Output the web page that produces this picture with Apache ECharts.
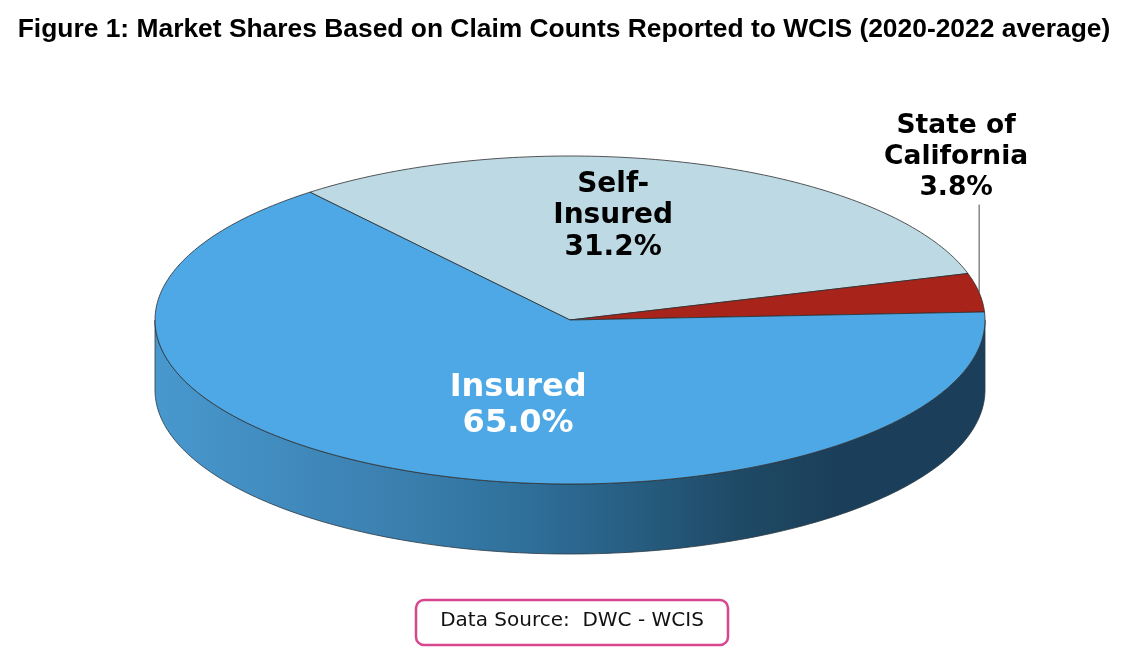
<!DOCTYPE html>
<html>
<head>
<meta charset="utf-8">
<script src="https://cdn.jsdelivr.net/npm/echarts@6/dist/echarts.min.js"></script>
<style>
  html, body { margin: 0; padding: 0; background: #ffffff; }
  #chart { width: 1128px; height: 656px; }
</style>
</head>
<body>
<div id="chart"></div>
<script>
// ---- data ----
const categories = ['Self-Insured', 'State of California', 'Insured'];
const shares = [31.2, 3.8, 65.0];
const labelNames = ['Self-\nInsured', 'State of\nCalifornia', 'Insured'];
const titleText = 'Figure 1: Market Shares Based on Claim Counts Reported to WCIS (2020-2022 average)';
const sourceText = 'Data Source:  DWC - WCIS';

// ---- layout / style ----
const geo = { cx: 570, cy: 320, rx: 415, ry: 164, depth: 70, startAngle: 128.8 };
const topColors = ['#bdd9e4', '#a8231a', '#4da8e5'];
const labelColors = ['#000000', '#000000', '#ffffff'];
const labelFonts = [28, 26.5, 32];
const labelLineH = [31.5, 31, 36];
// label anchor offsets in radius units (null = leader line label)
const labelOffsets = [[0.104, -0.634], null, [-0.125, 0.52]];
const leader = { length: 88, labelGap: 47, dx: -23 };

const total = shares.reduce((a, b) => a + b, 0);
const DEG = Math.PI / 180;
function pt(t, dy) {
  return [geo.cx + geo.rx * Math.cos(t * DEG), geo.cy - geo.ry * Math.sin(t * DEG) + (dy || 0)];
}
function arc(a0, a1, dy) {
  const n = Math.max(2, Math.ceil(Math.abs(a1 - a0)));
  const pts = [];
  for (let i = 0; i <= n; i++) pts.push(pt(a0 + (a1 - a0) * i / n, dy));
  return pts;
}

function renderItem(params, api) {
  const idx = params.dataIndex;
  let before = 0;
  for (let i = 0; i < idx; i++) before += shares[i];
  const v = api.value(0);
  const hi = geo.startAngle - before / total * 360;
  const lo = hi - v / total * 360;
  const children = [];

  // front side wall (visible where sin < 0)
  for (let k = -1; k <= 1; k++) {
    const s0 = Math.max(lo, -180 + 360 * k);
    const s1 = Math.min(hi, 0 + 360 * k);
    if (s1 > s0) {
      const topArc = arc(s0, s1, 0);
      const botArc = arc(s1, s0, geo.depth);
      children.push({
        type: 'polygon',
        shape: { points: topArc.concat(botArc) },
        style: {
          fill: {
            type: 'linear', x: 0, y: 0, x2: 1, y2: 0,
            colorStops: [
              { offset: 0, color: '#4898ce' },
              { offset: 0.2, color: '#3f87b9' },
              { offset: 0.3, color: '#3a7fae' },
              { offset: 0.45, color: '#2f6f9a' },
              { offset: 0.6, color: '#255a7c' },
              { offset: 0.7, color: '#1f4a66' },
              { offset: 0.82, color: '#1b3f5a' },
              { offset: 1, color: '#1b3f5a' }
            ]
          },
          stroke: '#2b3a44',
          lineWidth: 0.8
        }
      });
    }
  }

  // top face
  const topPts = [[geo.cx, geo.cy]].concat(arc(hi, lo, 0));
  children.push({
    type: 'polygon',
    shape: { points: topPts },
    style: { fill: topColors[idx], stroke: '#2e2e2e', lineWidth: 0.8 }
  });

  // label
  const labelText = labelNames[idx] + '\n' + v.toFixed(1) + '%';
  const off = labelOffsets[idx];
  let lx, ly;
  if (off) {
    lx = geo.cx + off[0] * geo.rx;
    ly = geo.cy + off[1] * geo.ry;
  } else {
    const mid = (hi + lo) / 2;
    const a = pt(mid, 0);
    children.push({
      type: 'line',
      shape: { x1: a[0], y1: a[1], x2: a[0], y2: a[1] - leader.length },
      style: { stroke: '#4a4a4a', lineWidth: 1 }
    });
    lx = a[0] + leader.dx;
    ly = a[1] - leader.length - leader.labelGap;
  }
  children.push({
    type: 'text',
    x: lx, y: ly,
    style: {
      text: labelText,
      fill: labelColors[idx],
      fontSize: labelFonts[idx],
      fontWeight: 'bold',
      fontFamily: 'DejaVu Sans',
      lineHeight: labelLineH[idx],
      align: 'center',
      verticalAlign: 'middle'
    }
  });
  return { type: 'group', children: children };
}

const chart = echarts.init(document.getElementById('chart'));
chart.setOption({
  backgroundColor: '#ffffff',
  animation: false,
  title: {
    text: titleText,
    left: 'center',
    top: 16,
    padding: 0,
    textStyle: {
      fontSize: 26.4, fontWeight: 'bold', fontFamily: 'Liberation Sans, Arial',
      color: '#000000', lineHeight: 28
    }
  },
  series: [{
    type: 'custom',
    coordinateSystem: 'none',
    renderItem: renderItem,
    data: shares.map((v, i) => ({ name: categories[i], value: [v] }))
  }],
  graphic: [{
    type: 'group',
    children: [
      {
        type: 'rect',
        shape: { x: 416, y: 600, width: 312, height: 45, r: 8 },
        style: { fill: '#ffffff', stroke: '#d6478f', lineWidth: 2.5 }
      },
      {
        type: 'text',
        x: 572, y: 621,
        style: {
          text: sourceText, fill: '#111111',
          fontSize: 20, fontFamily: 'DejaVu Sans',
          align: 'center', verticalAlign: 'middle'
        }
      }
    ]
  }]
});
</script>
</body>
</html>
